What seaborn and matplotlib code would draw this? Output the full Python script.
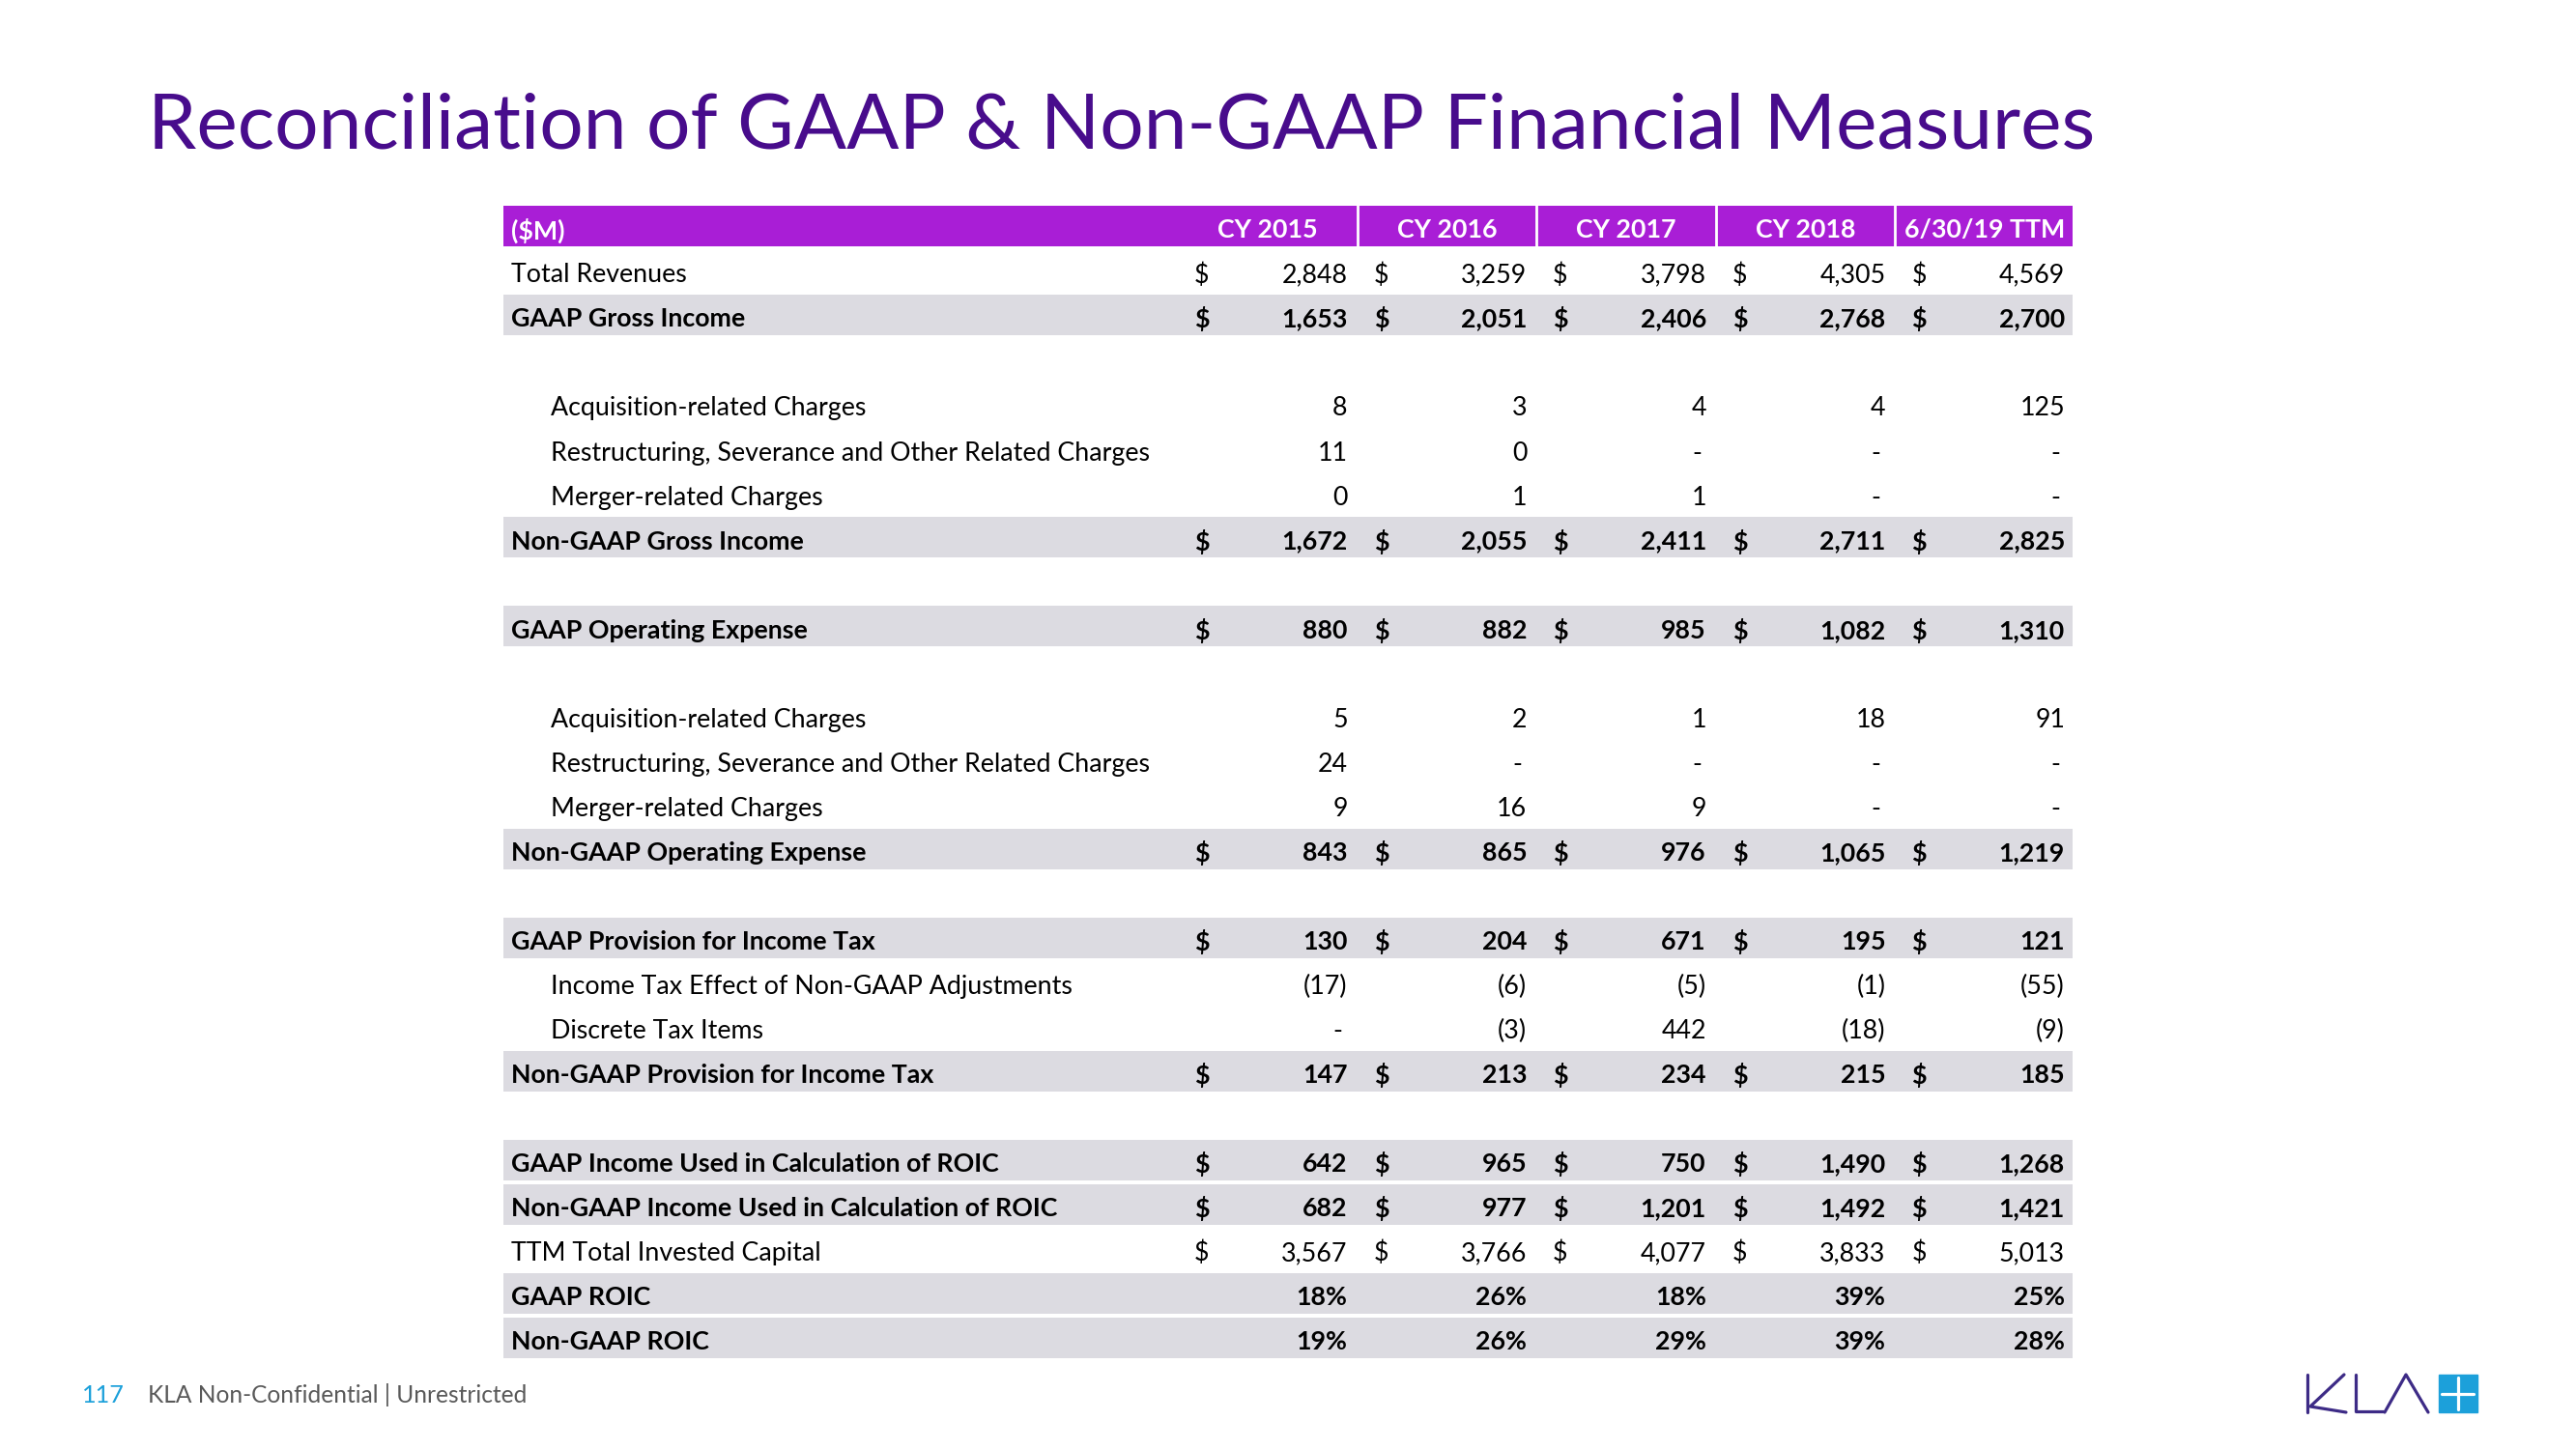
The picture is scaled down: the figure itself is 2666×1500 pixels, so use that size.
import matplotlib
matplotlib.use("Agg")
import numpy as np
import matplotlib.pyplot as plt
import seaborn as sns
from matplotlib.colors import ListedColormap
from matplotlib.patches import Rectangle

sns.set_theme(style="white")
plt.rcParams['font.family'] = ['Lato', 'DejaVu Sans']

title = "Reconciliation of GAAP & Non-GAAP Financial Measures"
unit_label = "($M)"
columns = ["CY 2015", "CY 2016", "CY 2017", "CY 2018", "6/30/19 TTM"]

row_labels = [
    "Total Revenues", "GAAP Gross Income", "",
    "Acquisition-related Charges", "Restructuring, Severance and Other Related Charges",
    "Merger-related Charges", "Non-GAAP Gross Income", "",
    "GAAP Operating Expense", "",
    "Acquisition-related Charges", "Restructuring, Severance and Other Related Charges",
    "Merger-related Charges", "Non-GAAP Operating Expense", "",
    "GAAP Provision for Income Tax", "Income Tax Effect of Non-GAAP Adjustments",
    "Discrete Tax Items", "Non-GAAP Provision for Income Tax", "",
    "GAAP Income Used in Calculation of ROIC", "Non-GAAP Income Used in Calculation of ROIC",
    "TTM Total Invested Capital", "GAAP ROIC", "Non-GAAP ROIC",
]
row_indent = [0, 0, 0, 1, 1, 1, 0, 0, 0, 0, 1, 1, 1, 0, 0, 0, 1, 1, 0, 0, 0, 0, 0, 0, 0]
row_bold = [0, 1, 0, 0, 0, 0, 1, 0, 1, 0, 0, 0, 0, 1, 0, 1, 0, 0, 1, 0, 1, 1, 0, 1, 1]
row_dollar = [1, 1, 0, 0, 0, 0, 1, 0, 1, 0, 0, 0, 0, 1, 0, 1, 0, 0, 1, 0, 1, 1, 1, 0, 0]

cy2015 = ["2,848", "1,653", "", "8", "11", "0", "1,672", "", "880", "", "5", "24", "9", "843", "",
          "130", "(17)", "-", "147", "", "642", "682", "3,567", "18%", "19%"]
cy2016 = ["3,259", "2,051", "", "3", "0", "1", "2,055", "", "882", "", "2", "-", "16", "865", "",
          "204", "(6)", "(3)", "213", "", "965", "977", "3,766", "26%", "26%"]
cy2017 = ["3,798", "2,406", "", "4", "-", "1", "2,411", "", "985", "", "1", "-", "9", "976", "",
          "671", "(5)", "442", "234", "", "750", "1,201", "4,077", "18%", "29%"]
cy2018 = ["4,305", "2,768", "", "4", "-", "-", "2,711", "", "1,082", "", "18", "-", "-", "1,065", "",
          "195", "(1)", "(18)", "215", "", "1,490", "1,492", "3,833", "39%", "39%"]
ttm = ["4,569", "2,700", "", "125", "-", "-", "2,825", "", "1,310", "", "91", "-", "-", "1,219", "",
       "121", "(55)", "(9)", "185", "", "1,268", "1,421", "5,013", "25%", "28%"]
col_values = [cy2015, cy2016, cy2017, cy2018, ttm]

TITLE_C = "#480C8C"
HEAD_C = "#A91ED6"
GRAY_C = "#DCDBE1"
BLUE_C = "#1CA0DA"
LOGO_C = "#3D2B86"

W, H = 2666, 1500
fig = plt.figure(figsize=(W / 100, H / 100), dpi=100)
bg = fig.add_axes([0, 0, 1, 1])
bg.set_xlim(0, W)
bg.set_ylim(H, 0)
bg.axis('off')


def fit(t, width):
    fig.canvas.draw()
    w = t.get_window_extent().width
    t.set_fontsize(t.get_fontsize() * width / w)


t = bg.text(153, 154, title, fontsize=60, color=TITLE_C, va='baseline')
fit(t, 2017)

# table
tx0, tx1, ty0, ty1 = 519, 2147, 211, 1408
tw = tx1 - tx0
tab = fig.add_axes([tx0 / W, 1 - ty1 / H, tw / W, (ty1 - ty0) / H])
shade = np.array([2] + [1 if b else 0 for b in row_bold]).reshape(-1, 1)
sns.heatmap(shade, ax=tab, cmap=ListedColormap(["white", GRAY_C, HEAD_C]), vmin=-0.5, vmax=2.5,
            cbar=False, linewidths=1.5, linecolor="white", xticklabels=False, yticklabels=False)
tab.axis('off')

label_w = 700 / tw
val_w = (1 - label_w) / len(columns)
px = 1 / tw
fs = 19.3
dy = 0.55

tab.text(10 * px, dy, unit_label, color="white", fontweight="bold", fontsize=fs,
         ha='left', va='center_baseline')
for i, c in enumerate(columns):
    left = label_w + i * val_w
    tab.text(left + val_w / 2, dy, c, color="white", fontweight="bold", fontsize=fs,
             ha='center', va='center_baseline')
    if i > 0:
        tab.vlines(left, 0, 1, color="white", lw=2)

for r, lab in enumerate(row_labels):
    y = r + 1 + dy
    fw = "bold" if row_bold[r] else "normal"
    tab.text((51 if row_indent[r] else 10) * px, y, lab, fontsize=fs, fontweight=fw,
             color="black", ha='left', va='center_baseline')
    for i, vals in enumerate(col_values):
        left = label_w + i * val_w
        v = vals[r]
        if row_dollar[r]:
            tab.text(left + 17 * px, y, "$", fontsize=fs, fontweight=fw, color="black",
                     ha='left', va='center_baseline')
        if v:
            off = 15 if v == "-" else 10
            tab.text(left + val_w - off * px, y, v, fontsize=fs, fontweight=fw, color="black",
                     ha='right', va='center_baseline')

# footer
f1 = bg.text(85, 1452, "117", color=BLUE_C, fontsize=16, va='baseline')
fit(f1, 44)
f2 = bg.text(153, 1452, "KLA Non-Confidential | Unrestricted", color="#595959", fontsize=14, va='baseline')
fit(f2, 394)

# logo
lw = 2.3
bg.plot([2388, 2388], [1423, 1462], color=LOGO_C, lw=lw)
bg.plot([2426, 2391, 2428], [1423, 1456, 1462], color=LOGO_C, lw=lw)
bg.plot([2438, 2438, 2466], [1423, 1461, 1461], color=LOGO_C, lw=lw)
bg.plot([2468, 2490, 2513], [1462, 1423, 1462], color=LOGO_C, lw=lw)
bg.add_patch(Rectangle((2524, 1423), 40, 39, color=BLUE_C))
bg.plot([2527, 2560], [1443, 1443], color="white", lw=lw)
bg.plot([2544, 2544], [1426, 1459], color="white", lw=lw)

fig.savefig("out.png", dpi=100, facecolor="white")
